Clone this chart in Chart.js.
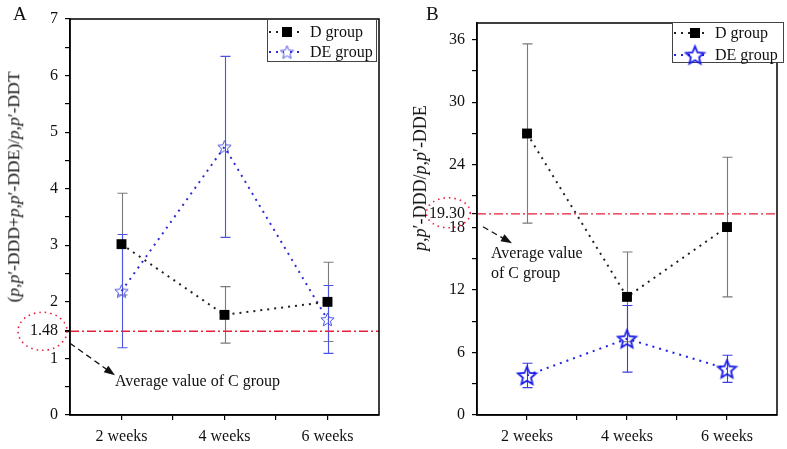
<!DOCTYPE html>
<html>
<head>
<meta charset="utf-8">
<script src="https://cdn.jsdelivr.net/npm/chart.js@4.4.0/dist/chart.umd.min.js"></script>
<style>
  body { margin: 0; background: #fff; width: 787px; height: 449px; overflow: hidden; position: relative;
         font-family: "Liberation Serif", "Times New Roman", serif; color: #111; }
  canvas { position: absolute; top: 0; }
  #chartA { left: 0; }
  #chartB { left: 393px; }
  .txt { position: absolute; white-space: nowrap; font-size: 16px; line-height: 1; }
  .ytitle { transform: translate(-50%, -50%) rotate(-90deg); }
</style>
</head>
<body>
<canvas id="chartA" width="393" height="449"></canvas>
<canvas id="chartB" width="394" height="449"></canvas>

<div class="txt" style="left:13px;top:4px;font-size:19px">A</div>
<div class="txt" style="left:426px;top:4px;font-size:19px">B</div>
<div class="txt ytitle" style="left:14px;top:187px;font-size:17.5px">(<i>p</i>,<i>p</i>′-DDD+<i>p</i>,<i>p</i>′-DDE)/<i>p</i>,<i>p</i>′-DDT</div>
<div class="txt ytitle" style="left:420px;top:178px;font-size:18px"><i>p</i>,<i>p</i>′-DDD/<i>p</i>,<i>p</i>′-DDE</div>
<div class="txt" style="left:115px;top:373px">Average value of C group</div>
<div class="txt" style="left:491px;top:245px">Average value</div>
<div class="txt" style="left:491px;top:265px">of C group</div>

<script>
// categories and values
const weeks = ["2 weeks", "4 weeks", "6 weeks"];

// panel A: (p,p'-DDD + p,p'-DDE) / p,p'-DDT
const dMeanA = [3.02, 1.77, 2.0];
const dErrA = [0.9, 0.5, 0.7];
const deMeanA = [2.19, 4.74, 1.69];
const deErrA = [1.0, 1.6, 0.6];
const cAvgA = 1.48;
const yLabelsA = [0, 1, 2, 3, 4, 5, 6, 7];

// panel B: p,p'-DDD / p,p'-DDE
const dMeanB = [27.0, 11.33, 18.03];
const dErrB = [8.6, 4.3, 6.7];
const deMeanB = [3.8, 7.31, 4.43];
const deErrB = [1.17, 3.2, 1.3];
const cAvgB = 19.30;
const yLabelsB = [0, 6, 12, 18, 24, 30, 36];

const FONT = "Liberation Serif";
const RED = "#e8203c";

function makeStar(r, lw, color) {
  const c = document.createElement("canvas");
  const s = Math.ceil(2 * r + lw + 2);
  c.width = s; c.height = s;
  const g = c.getContext("2d");
  g.translate(s / 2, s / 2 + r * 0.1);
  g.beginPath();
  for (let i = 0; i < 10; i++) {
    const a = -Math.PI / 2 + i * Math.PI / 5;
    const rr = i % 2 ? r * 0.45 : r;
    g.lineTo(rr * Math.cos(a), rr * Math.sin(a));
  }
  g.closePath();
  g.lineWidth = lw; g.strokeStyle = color; g.lineJoin = "miter";
  g.stroke();
  return c;
}

const pts = (arr) => arr.map((v, i) => ({ x: i + 1, y: v }));

// error bars, drawn under the markers
const errorBars = {
  id: "errorBars",
  beforeDatasetsDraw(chart) {
    const { ctx, scales: { x, y } } = chart;
    chart.data.datasets.forEach((ds) => {
      if (!ds.err) return;
      ctx.save();
      ctx.strokeStyle = ds.errColor;
      ctx.lineWidth = 1.1;
      ds.data.forEach((p, j) => {
        const px = Math.round(x.getPixelForValue(p.x)) + 0.5;
        const top = y.getPixelForValue(p.y + ds.err[j]);
        const bot = y.getPixelForValue(p.y - ds.err[j]);
        ctx.beginPath();
        ctx.moveTo(px, top); ctx.lineTo(px, bot);
        ctx.moveTo(px - 5, top); ctx.lineTo(px + 5, top);
        ctx.moveTo(px - 5, bot); ctx.lineTo(px + 5, bot);
        ctx.stroke();
      });
      ctx.restore();
    });
  }
};

// frame, legend and the C-group note
const extras = {
  id: "extras",
  afterDraw(chart, args, o) {
    const { ctx, chartArea: a, scales: { y } } = chart;
    ctx.save();
    ctx.strokeStyle = "#000"; ctx.lineWidth = 1.5;
    ctx.strokeRect(a.left, a.top, a.right - a.left, a.bottom - a.top);

    // legend
    const L = o.legend;
    ctx.fillStyle = "#fff"; ctx.fillRect(L.x1, L.y1, L.x2 - L.x1, L.y2 - L.y1);
    ctx.strokeStyle = "#444"; ctx.lineWidth = 1;
    ctx.strokeRect(L.x1 + 0.5, L.y1 + 0.5, L.x2 - L.x1, L.y2 - L.y1);
    chart.data.datasets.slice(0, 2).forEach((ds, i) => {
      const ry = L.rows[i];
      ctx.save();
      ctx.strokeStyle = ds.borderColor; ctx.lineWidth = ds.borderWidth;
      ctx.setLineDash(ds.borderDash);
      ctx.beginPath(); ctx.moveTo(L.lx1, ry); ctx.lineTo(L.lx2, ry); ctx.stroke();
      ctx.restore();
      if (ds.pointStyle === "rect") {
        ctx.fillStyle = "#000";
        ctx.fillRect(L.mx - 5, ry - 5, 10, 10);
      } else {
        const img = ds.pointStyle;
        ctx.fillStyle = "#fff";
        ctx.fillRect(L.mx - 3, ry - 3, 6, 6);
        ctx.drawImage(img, L.mx - img.width / 2, ry - img.height / 2);
      }
      ctx.fillStyle = "#111";
      ctx.font = "16px " + FONT;
      ctx.textBaseline = "middle";
      ctx.fillText(ds.label, L.tx, ry + 1);
    });

    // dotted ellipse round the C-group tick and dashed arrow
    const N = o.note;
    const yp = y.getPixelForValue(N.value);
    ctx.strokeStyle = RED; ctx.lineWidth = 1.6;
    ctx.setLineDash([1.5, 4]);
    ctx.beginPath();
    ctx.ellipse(a.left + N.ex, yp + N.ey, N.rx, N.ry, 0, 0, Math.PI * 2);
    ctx.stroke();
    const x1 = a.left + N.arrow[0], y1 = yp + N.arrow[1];
    const x2 = a.left + N.arrow[2], y2 = yp + N.arrow[3];
    const ang = Math.atan2(y2 - y1, x2 - x1);
    ctx.strokeStyle = "#111"; ctx.lineWidth = 1.3;
    ctx.setLineDash([6, 4]);
    ctx.beginPath(); ctx.moveTo(x1, y1);
    ctx.lineTo(x2 - 9 * Math.cos(ang), y2 - 9 * Math.sin(ang)); ctx.stroke();
    ctx.setLineDash([]);
    ctx.fillStyle = "#111";
    ctx.beginPath();
    ctx.moveTo(x2, y2);
    ctx.lineTo(x2 - 11 * Math.cos(ang) + 4 * Math.sin(ang), y2 - 11 * Math.sin(ang) - 4 * Math.cos(ang));
    ctx.lineTo(x2 - 11 * Math.cos(ang) - 4 * Math.sin(ang), y2 - 11 * Math.sin(ang) + 4 * Math.cos(ang));
    ctx.closePath(); ctx.fill();
    ctx.restore();
  }
};

function buildChart(id, cfg) {
  const yMajor = cfg.yLabels;
  const step = (yMajor[1] - yMajor[0]) / 2;
  return new Chart(document.getElementById(id), {
    type: "line",
    data: {
      datasets: [
        {
          label: "D group",
          data: pts(cfg.d), err: cfg.dErr, errColor: "#7a7a7a",
          borderColor: "#222", borderWidth: 2, borderDash: [2, 5],
          pointStyle: "rect", pointRadius: 7, pointBorderWidth: 0,
          pointBackgroundColor: "#000", pointBorderColor: "#000"
        },
        {
          label: "DE group",
          data: pts(cfg.de), err: cfg.deErr, errColor: cfg.deErrColor,
          borderColor: cfg.deLine, borderWidth: 2, borderDash: [2, 5],
          pointStyle: cfg.star, pointRadius: 8
        },
        {
          label: "C avg",
          data: [{ x: 0.5, y: cfg.cAvg }, { x: 3.5, y: cfg.cAvg }],
          borderColor: RED, borderWidth: 1.3, borderDash: [9, 3, 2, 3],
          pointRadius: 0
        }
      ]
    },
    options: {
      responsive: false,
      animation: false,
      layout: { padding: { top: cfg.top, right: cfg.right, left: 0, bottom: 0 } },
      plugins: { legend: { display: false }, tooltip: { enabled: false }, extras: cfg.extras },
      scales: {
        x: {
          type: "linear", min: 0.5, max: 3.5,
          afterBuildTicks: (s) => { s.ticks = [1, 1.5, 2, 2.5, 3].map((v) => ({ value: v })); },
          afterFit: (s) => { s.height = 34; },
          ticks: {
            autoSkip: false, maxRotation: 0, padding: 7, color: "#111",
            font: { family: FONT, size: 16 },
            callback: (v) => (Number.isInteger(v) ? weeks[v - 1] : "")
          },
          grid: { drawOnChartArea: false, tickLength: 5, color: "#000", lineWidth: 1.2 },
          border: { color: "#000", width: 1.5 }
        },
        y: {
          min: 0, max: cfg.yMax,
          afterBuildTicks: (s) => {
            const t = [];
            for (let v = 0; v <= yMajor[yMajor.length - 1] + 1e-9; v += step) t.push({ value: v });
            t.push({ value: cfg.cAvg });
            s.ticks = t;
          },
          afterFit: (s) => { s.width = cfg.yWidth; },
          ticks: {
            autoSkip: false, padding: 7, color: "#111",
            font: { family: FONT, size: 16 },
            callback: (v) => (v === cfg.cAvg ? cfg.cAvg.toFixed(2) : yMajor.includes(v) ? String(v) : "")
          },
          grid: { drawOnChartArea: false, tickLength: 5, color: "#000", lineWidth: 1.2 },
          border: { color: "#000", width: 1.5 }
        }
      }
    },
    plugins: [errorBars, extras]
  });
}

buildChart("chartA", {
  d: dMeanA, dErr: dErrA, de: deMeanA, deErr: deErrA, cAvg: cAvgA, yLabels: yLabelsA,
  yMax: 7, top: 19, right: 14, yWidth: 70,
  deLine: "#2b2bd8", deErrColor: "#4c54e4", star: makeStar(7, 1, "#4a50e0"),
  extras: {
    legend: { x1: 267, y1: 19, x2: 376, y2: 61, rows: [32, 52], lx1: 269, lx2: 303, mx: 287, tx: 310 },
    note: { value: cAvgA, ex: -27.5, ey: 0, rx: 24.5, ry: 19, arrow: [0, 12, 45, 44] }
  }
});

buildChart("chartB", {
  d: dMeanB, dErr: dErrB, de: deMeanB, deErr: deErrB, cAvg: cAvgB, yLabels: yLabelsB,
  yMax: 37.6, top: 23, right: 1, yWidth: 84,
  deLine: "#2020e8", deErrColor: "#3c3ce4", star: makeStar(9.5, 1.8, "#1a1ae8"),
  extras: {
    legend: { x1: 279, y1: 22, x2: 390, y2: 62, rows: [33, 55], lx1: 281, lx2: 316, mx: 302, tx: 322 },
    note: { value: cAvgB, ex: -28.7, ey: -1, rx: 22, ry: 15, arrow: [6, 13, 35, 29.5] }
  }
});
</script>
</body>
</html>
